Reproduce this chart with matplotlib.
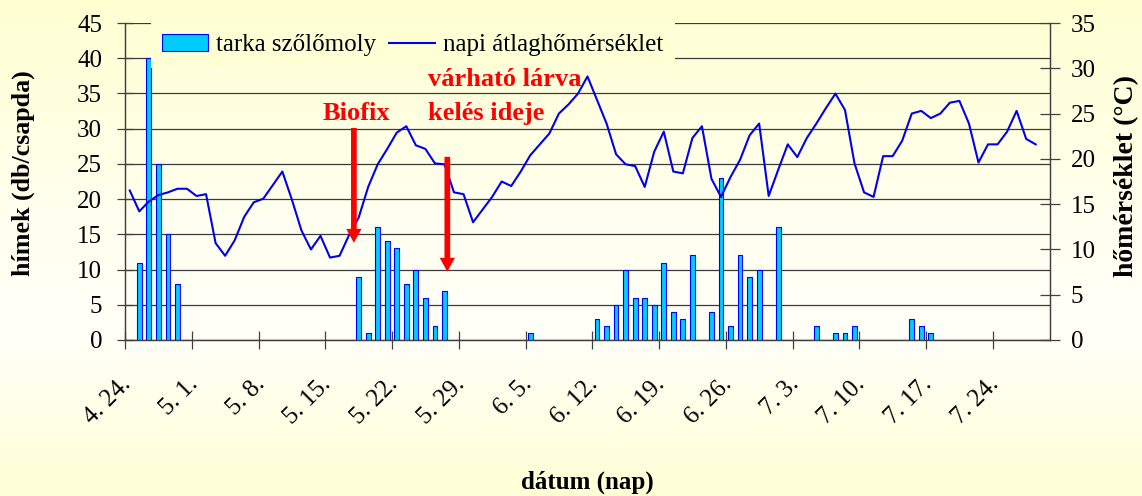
import numpy as np
import matplotlib
matplotlib.use("Agg")
import matplotlib.pyplot as plt
from matplotlib.colors import LinearSegmentedColormap
from matplotlib.patches import Patch
from matplotlib.lines import Line2D

plt.rcParams["font.family"] = ["Liberation Serif", "DejaVu Serif"]

# --- data (days counted from 4.24.) ---
n_days = 97                       # 4.24. .. 7.29.
date_labels = ["4. 24.", "5. 1.", "5. 8.", "5. 15.", "5. 22.", "5. 29.", "6. 5.",
               "6. 12.", "6. 19.", "6. 26.", "7. 3.", "7. 10.", "7. 17.", "7. 24."]
label_days = [0, 7, 14, 21, 28, 35, 42, 49, 56, 63, 70, 77, 84, 91]

# napi átlaghőmérséklet (°C), one value per day
temp = [16.5, 14.2, 15.3, 16.0, 16.3, 16.7, 16.7, 15.9, 16.1, 10.7,
        9.3, 11.0, 13.6, 15.2, 15.6, 17.1, 18.6, 15.5, 12.1, 10.0,
        11.5, 9.1, 9.3, 11.6, 13.5, 16.9, 19.4, 21.1, 22.9, 23.6,
        21.5, 21.1, 19.5, 19.4, 16.3, 16.1, 13.0, 14.4, 15.8, 17.5,
        17.0, 18.6, 20.4, 21.6, 22.8, 25.0, 26.0, 27.2, 29.1, 26.5,
        23.9, 20.5, 19.4, 19.2, 16.9, 20.8, 23.0, 18.6, 18.4, 22.3,
        23.6, 17.8, 15.8, 18.0, 19.9, 22.6, 23.9, 15.9, 18.8, 21.6,
        20.2, 22.3, 23.9, 25.6, 27.2, 25.4, 19.5, 16.3, 15.8, 20.3,
        20.3, 22.0, 25.0, 25.3, 24.5, 25.0, 26.2, 26.4, 23.9, 19.6,
        21.6, 21.6, 23.0, 25.3, 22.2, 21.6]

# tarka szőlőmoly catches (db/csapda), only days with a catch
catch_days = [1, 2, 3, 4, 5,
              24, 25, 26, 27, 28, 29, 30, 31, 32, 33,
              42,
              49, 50, 51, 52, 53, 54, 55, 56, 57, 58, 59, 61, 62, 63, 64, 65, 66, 68,
              72, 74, 75, 76,
              82, 83, 84]
catch_counts = [11, 40, 25, 15, 8,
                9, 1, 16, 14, 13, 8, 10, 6, 2, 7,
                1,
                3, 2, 5, 10, 6, 6, 5, 11, 4, 3, 12, 4, 23, 2, 12, 9, 10, 16,
                2, 1, 1, 2,
                3, 2, 1]

# arrows (day, from, to) in left-axis units
biofix_arrow = (23.5, 30.1, 13.8)
larva_arrow = (33.3, 26.0, 9.7)

W, H = 1142, 496
fig = plt.figure(figsize=(W / 100, H / 100), dpi=100)

# slide-like background gradient
bg = fig.add_axes([0, 0, 1, 1], zorder=-10)
cmap = LinearSegmentedColormap.from_list(
    "bg", [(0.0, "#FFFFD2"), (0.45, "#FFFFF0"), (0.68, "#FFFFF8"), (1.0, "#FFFFD6")])
bg.imshow(np.linspace(0, 1, 256)[:, None], aspect="auto", cmap=cmap,
          extent=[0, 1, 0, 1], origin="upper")
bg.axis("off")

ax = fig.add_axes([125 / W, 1 - 340 / H, 925 / W, 317 / H])
ax.set_facecolor("none")
ax2 = ax.twinx()

ax.bar(catch_days, catch_counts, width=0.5, color="#00CCFF",
       edgecolor="#0000FF", linewidth=0.8, zorder=3)
ax2.plot(range(len(temp)), temp, color="#0000EE", lw=1.5)

ax.set_xlim(-0.5, n_days - 0.5)
ax.set_ylim(0, 45)
ax2.set_ylim(0, 35)
ax.set_yticks(np.arange(0, 46, 5))
ax2.set_yticks(np.arange(0, 36, 5))

ax.set_axisbelow(True)
ax.yaxis.grid(True, color="#3a3a3a", lw=0.9)

# tick marks between weeks, rotated labels hang just right of the week's first day
ax.set_xticks(np.arange(-0.5, 91, 7))
ax.set_xticklabels([])
ax.set_xticks(np.array(label_days) + 0.6, minor=True)
ax.set_xticklabels(date_labels, minor=True, rotation=45, ha="right", va="top")
ax.tick_params(axis="x", which="major", direction="inout", length=13,
               color="#404040", width=0.9)
ax.tick_params(axis="x", which="minor", length=0, pad=24, labelsize=18)
ax.tick_params(axis="y", direction="inout", length=11, pad=11,
               color="#404040", width=0.9, labelsize=18)
ax2.tick_params(axis="y", direction="inout", length=14, pad=8,
                color="#404040", width=0.9, labelsize=18)

for a in (ax, ax2):
    a.spines["top"].set_visible(False)
    for s in ("left", "right", "bottom"):
        a.spines[s].set_color("#404040")
        a.spines[s].set_linewidth(0.9)

# axis titles
fig.text(23 / W, 1 - 173 / H, "hímek (db/csapda)", rotation=90, fontsize=18.7,
         fontweight="bold", ha="center", va="center")
fig.text(1127 / W, 1 - 176 / H, "hőmérséklet (°C)", rotation=90, fontsize=20,
         fontweight="bold", ha="center", va="center")
fig.text(587 / W, 1 - 482 / H, "dátum (nap)", fontsize=18, fontweight="bold",
         ha="center", va="center")

# red annotations
arrow_kw = dict(width=4.1, headwidth=11, headlength=10, shrink=0,
                facecolor="#FF0000", edgecolor="none")
for x, y0, y1 in (biofix_arrow, larva_arrow):
    ax2.annotate("", xy=(x, y1), xytext=(x, y0), xycoords=ax.transData,
                 textcoords=ax.transData, arrowprops=arrow_kw)
red_txt = dict(color="#FF0000", fontsize=19, fontweight="bold",
               va="baseline", transform=ax.transData)
ax2.text(23.8, 31.3, "Biofix", ha="center", **red_txt)
ax2.text(31.25, 36.0, "várható lárva", ha="left", **red_txt)
ax2.text(31.25, 31.3, "kelés ideje", ha="left", **red_txt)

handles = [Patch(facecolor="#00CCFF", edgecolor="#0000FF", lw=0.8),
           Line2D([], [], color="#0000EE", lw=1.5)]
leg = ax2.legend(handles, ["tarka szőlőmoly", "napi átlaghőmérséklet"], ncol=2,
                 loc="center left", bbox_to_anchor=(150.7 / W, 1 - 45 / H),
                 bbox_transform=fig.transFigure, borderaxespad=0, fontsize=18,
                 handlelength=1.85, handletextpad=0.32, columnspacing=0.5,
                 borderpad=0.45, fancybox=False, framealpha=1,
                 facecolor="#FFFFD6", edgecolor="none")

fig.savefig("out.png", dpi=100)
